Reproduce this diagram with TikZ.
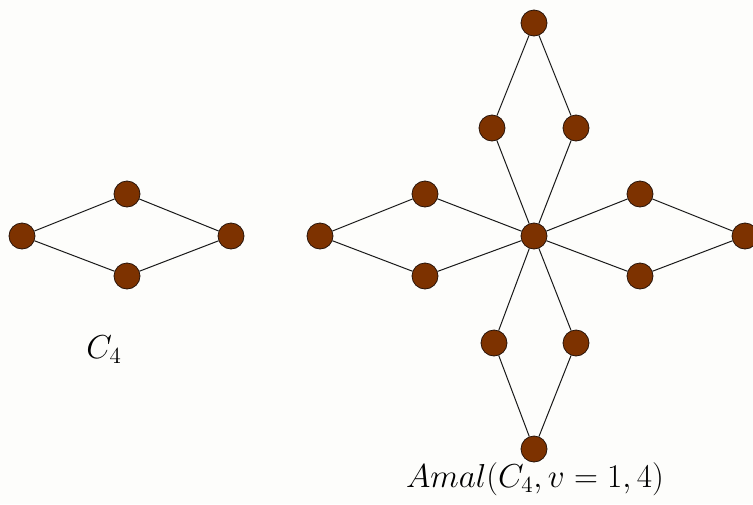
\documentclass[tikz,border=0pt]{standalone}
\definecolor{vbrown}{RGB}{125,50,0}
\definecolor{vborder}{RGB}{40,20,10}
\definecolor{edgec}{RGB}{25,25,25}
\definecolor{bgc}{RGB}{253,253,251}
\begin{document}
\begin{tikzpicture}[x=1pt,y=-1pt,
  vtx/.style={circle,fill=vbrown,draw=vborder,line width=0.8pt,minimum size=26pt,inner sep=0pt},
  edge/.style={line width=1pt,draw=edgec},
  lbl/.style={font=\fontsize{20}{24}\selectfont,scale=1.6}]
\fill[bgc] (0,0) rectangle (753,504);
\useasboundingbox (0,0) rectangle (753,504);
% C4
\node[vtx] (a1) at (22,236) {};
\node[vtx] (a2) at (127,194) {};
\node[vtx] (a3) at (127,276) {};
\node[vtx] (a4) at (231,236) {};
\draw[edge] (a1) -- (a2) -- (a4) -- (a3) -- (a1);
\node[lbl] (l1) at (104,350) {$C_4$};
% Amal
\node[vtx] (c) at (534,236) {};
\node[vtx] (w1) at (320,236) {};
\node[vtx] (w2) at (425,194) {};
\node[vtx] (w3) at (425,276) {};
\node[vtx] (e1) at (745,236) {};
\node[vtx] (e2) at (640,194) {};
\node[vtx] (e3) at (640,276) {};
\node[vtx] (n1) at (534,23) {};
\node[vtx] (n2) at (492,128) {};
\node[vtx] (n3) at (576,128) {};
\node[vtx] (s1) at (534,449) {};
\node[vtx] (s2) at (494,343) {};
\node[vtx] (s3) at (576,343) {};
\draw[edge] (c) -- (w2) -- (w1) -- (w3) -- (c);
\draw[edge] (c) -- (e2) -- (e1) -- (e3) -- (c);
\draw[edge] (c) -- (n2) -- (n1) -- (n3) -- (c);
\draw[edge] (c) -- (s2) -- (s1) -- (s3) -- (c);
\node[lbl] (l2) at (535,479) {$Amal(C_4, v=1, 4)$};
\end{tikzpicture}
\end{document}
